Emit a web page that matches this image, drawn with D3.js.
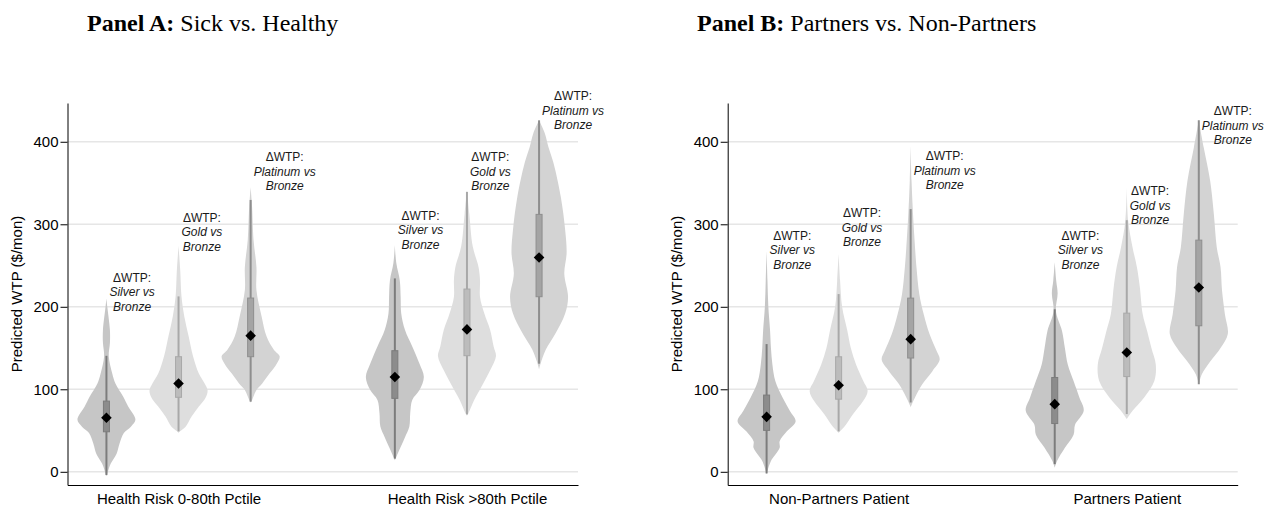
<!DOCTYPE html>
<html lang="en">
<head>
	<meta charset="UTF-8">
	<title>Predicted WTP by plan tier</title>
	<script src="https://d3js.org/d3.v7.min.js"></script>
	<style>
		body { margin: 0; background: #fff; }
		text { font-family: Arial, "Liberation Sans", sans-serif; }
	</style>
</head>
<body>

	<svg width="1278" height="506"></svg>

	<script>

		// tiers compared against Bronze, one violin each per group
		var tiers = ["Silver", "Gold", "Platinum"];
		var yTicks = [0, 100, 200, 300, 400];

		var groupsA = ["Health Risk 0-80th Pctile", "Health Risk >80th Pctile"];
		var groupsB = ["Non-Partners Patient", "Partners Patient"];

		// density profiles: [WTP value, relative density 0..1]
		var densA_low_silver = [[-5,0],[-2,0.03],[10,0.15],[22,0.35],[34,0.45],[47,0.6],[55,0.85],[63,1],[79,0.75],[91,0.58],[107,0.31],[119,0.2],[140,0.08],[156,0.12],[172,0.12],[200,0.03],[210,0]];
		var densA_low_gold = [[47,0],[49,0.05],[55,0.25],[67,0.45],[79,0.7],[91,0.95],[99,1],[107,0.9],[119,0.7],[140,0.5],[164,0.35],[188,0.2],[213,0.1],[243,0.06],[274,0]];
		var densA_low_plat = [[84,0],[87,0.05],[99,0.2],[107,0.4],[119,0.65],[131,0.9],[140,1],[148,0.8],[164,0.55],[188,0.38],[220,0.2],[248,0.2],[281,0.1],[321,0.05],[345,0]];
		var densA_high_silver = [[14,0],[18,0.05],[30,0.2],[42,0.35],[55,0.5],[71,0.53],[87,0.6],[99,0.85],[115,1],[131,0.85],[152,0.6],[172,0.35],[192,0.22],[212,0.2],[232,0.17],[253,0.05],[275,0]];
		var densA_high_gold = [[68,0],[71,0.05],[87,0.25],[103,0.5],[123,0.8],[140,1],[152,0.92],[172,0.8],[192,0.6],[212,0.45],[232,0.45],[248,0.4],[273,0.2],[313,0.08],[341,0]];
		var densA_high_plat = [[124,0],[131,0.05],[148,0.23],[168,0.57],[192,0.9],[212,1],[240,0.87],[265,0.95],[293,0.9],[333,0.75],[374,0.5],[394,0.32],[410,0.2],[426,0]];

		var densB_non_silver = [[-3,0],[1,0.03],[13,0.15],[29,0.45],[37,0.45],[49,0.7],[61,1],[74,0.8],[90,0.55],[110,0.3],[130,0.2],[150,0.15],[171,0.12],[200,0.06],[232,0.03],[268,0]];
		var densB_non_gold = [[47,0],[49,0.05],[57,0.25],[70,0.5],[86,0.85],[98,1],[110,0.85],[130,0.6],[150,0.42],[171,0.3],[200,0.12],[232,0.05],[264,0]];
		var densB_non_plat = [[78,0],[80,0.02],[90,0.15],[106,0.4],[122,0.75],[136,1],[146,0.9],[167,0.65],[191,0.45],[215,0.3],[248,0.2],[272,0.15],[313,0.08],[353,0.03],[395,0]];
		var densB_par_silver = [[5,0],[13,0.08],[29,0.35],[45,0.65],[57,0.7],[74,1],[90,0.85],[110,0.65],[130,0.45],[150,0.35],[171,0.25],[195,0.04],[216,0.1],[232,0.05],[254,0]];
		var densB_par_gold = [[64,0],[74,0.2],[90,0.6],[110,0.95],[130,1],[150,0.85],[171,0.7],[191,0.55],[224,0.45],[248,0.35],[272,0.2],[304,0.05],[345,0]];
		var densB_par_plat = [[106,0],[118,0.1],[134,0.4],[150,0.75],[167,1],[191,0.9],[220,0.8],[248,0.75],[272,0.62],[312,0.52],[353,0.39],[393,0.17],[426,0]];

		// box stats: [whisker low, q1, q3, whisker high, mean]
		var boxA = [
			[-4, 48.5, 85.7, 140.6, 65.5],
			[49, 90.3, 139.5, 212.6, 107],
			[85, 139.5, 210.6, 329.5, 165],
			[16, 89, 146.8, 234.4, 115],
			[69.6, 140.7, 221.5, 339.3, 172.6],
			[131, 212.2, 312, 426, 259.8]
		];
		var boxB = [
			[-2, 50.2, 93, 154.8, 66.6],
			[49, 88, 139.4, 215.4, 105],
			[84, 137.9, 210.5, 318.4, 160.8],
			[9.3, 58.5, 114.3, 197, 82],
			[70, 115.4, 192.3, 305, 144.6],
			[106, 177, 280.8, 426, 223.4]
		];

		// WTP level where each "ΔWTP" note is centred
		var noteA = [218, 291, 364, 293, 364, 438];
		var noteB = [269, 296, 365, 269, 323, 420];

		var violinFill = ["#c6c6c6", "#dedede", "#d3d3d3"];
		var boxFill = ["#8c8c8c", "#bcbcbc", "#a4a4a4"];
		var whiskerCol = ["#7c7c7c", "#a8a8a8", "#8e8e8e"];

		var panels = [
			{ bold: "Panel A:", rest: " Sick vs. Healthy", titleX: 87, left: 67.5, right: 578,
			  groups: groupsA, dens: [densA_low_silver, densA_low_gold, densA_low_plat, densA_high_silver, densA_high_gold, densA_high_plat],
			  box: boxA, notes: noteA },
			{ bold: "Panel B:", rest: " Partners vs. Non-Partners", titleX: 697, left: 727.7, right: 1237.7,
			  groups: groupsB, dens: [densB_non_silver, densB_non_gold, densB_non_plat, densB_par_silver, densB_par_gold, densB_par_plat],
			  box: boxB, notes: noteB }
		];

		var svg = d3.select("svg");
		var plotTop = 103, plotBottom = 485;

		var y = d3.scaleLinear()
			.domain([-16, 447])
			.range([plotBottom, plotTop]);

		var w = d3.scaleLinear()
			.domain([0, 1])
			.range([0, 29]);

		panels.forEach(function(p) {

			var x = d3.scaleLinear()
				.domain([0.46, 7.54])
				.range([p.left, p.right]);

			// slot on the x scale for every violin
			var slots = [];
			p.groups.forEach(function(g, gi) {
				tiers.forEach(function(t, ti) {
					slots.push({ tier: ti, pos: gi * 4 + ti + 1 });
				});
			});

			// Title
			var title = svg.append("text")
				.attr("x", p.titleX)
				.attr("y", 31)
				.style("font-family", "'Liberation Serif', 'DejaVu Serif', serif")
				.style("font-size", "24px")
				.attr("fill", "#000");
			title.append("tspan").style("font-weight", "bold").text(p.bold);
			title.append("tspan").text(p.rest);

			// grid lines
			svg.append("g")
				.selectAll("line")
				.data(yTicks)
				.enter()
				.append("line")
				.attr("x1", p.left)
				.attr("x2", p.right)
				.attr("y1", function(d) { return y(d); })
				.attr("y2", function(d) { return y(d); })
				.attr("stroke", "#e6e6e6")
				.attr("stroke-width", 1.5);

			// violins
			slots.forEach(function(s, i) {
				var cx = x(s.pos);

				var area = d3.area()
					.y(function(d) { return y(d[0]); })
					.x0(function(d) { return cx - w(d[1]); })
					.x1(function(d) { return cx + w(d[1]); })
					.curve(d3.curveCatmullRom);

				svg.append("path")
					.datum(p.dens[i])
					.attr("d", area)
					.attr("fill", violinFill[s.tier]);

				var b = p.box[i];

				svg.append("line")
					.attr("x1", cx).attr("x2", cx)
					.attr("y1", y(b[0])).attr("y2", y(b[3]))
					.attr("stroke", whiskerCol[s.tier])
					.attr("stroke-width", 2);

				svg.append("rect")
					.attr("x", cx - 3)
					.attr("width", 6)
					.attr("y", y(b[2]))
					.attr("height", y(b[1]) - y(b[2]))
					.attr("fill", boxFill[s.tier])
					.attr("stroke", whiskerCol[s.tier])
					.attr("stroke-width", 1);

				// mean marker
				svg.append("path")
					.attr("d", d3.symbol(d3.symbolSquare, 56))
					.attr("transform", "translate(" + cx + "," + y(b[4]) + ") rotate(45)")
					.attr("fill", "#000");

				// note text
				var note = svg.append("text")
					.attr("text-anchor", "middle")
					.style("font-size", "12px")
					.attr("fill", "#1a1a1a");
				var lines = ["\u0394WTP:", tiers[s.tier] + " vs", "Bronze"];
				var cy = y(p.notes[i]);
				var spans = lines.map(function(l, li) {
					return note.append("tspan")
						.attr("y", cy + (li - 1) * 14.5 + 4.3)
						.style("font-style", li == 0 ? "normal" : "italic")
						.text(l);
				});
				var maxW = d3.max(spans, function(t) { return t.node().getComputedTextLength(); });
				spans.forEach(function(t) { t.attr("x", cx + 3 + maxW / 2); });
			});

			// Y Axis
			var yAxis = svg.append("g")
				.attr("transform", "translate(" + p.left + ",0)")
				.call(d3.axisLeft(y).tickValues(yTicks).tickSize(7).tickSizeOuter(0).tickPadding(2));
			yAxis.selectAll("text").style("font-size", "15px").attr("fill", "#000").style("font-family", "Arial, 'Liberation Sans', sans-serif");
			yAxis.selectAll("line, path").attr("stroke", "#000");

			// X Axis
			var xAxis = svg.append("g")
				.attr("transform", "translate(0," + plotBottom + ")")
				.call(d3.axisBottom(x)
					.tickValues([2, 6])
					.tickSize(0)
					.tickPadding(8)
					.tickFormat(function(d) { return p.groups[(d - 2) / 4]; }));
			xAxis.selectAll("text").style("font-size", "15px").attr("fill", "#000").style("font-family", "Arial, 'Liberation Sans', sans-serif");
			xAxis.select("path").attr("stroke", "#000");

			// Y label
			svg.append("text")
				.attr("transform", "translate(" + (p.left - 45.5) + "," + ((plotTop + plotBottom) / 2) + ") rotate(-90)")
				.attr("text-anchor", "middle")
				.style("font-size", "15px")
				.attr("fill", "#000")
				.text("Predicted WTP ($/mon)");
		});

	</script>

</body>
</html>
